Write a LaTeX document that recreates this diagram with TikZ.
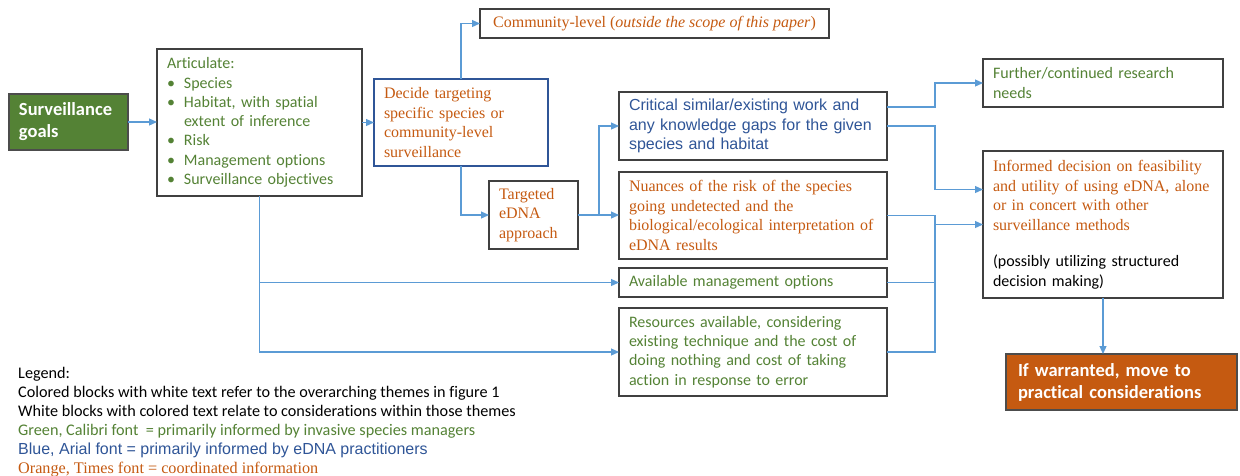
\documentclass[tikz,border=0pt]{standalone}
\usepackage{fontspec}
\setmainfont{Carlito}[Ligatures=NoCommon]
\newfontfamily\calfont{Carlito}[Ligatures=NoCommon]
\newfontfamily\arifont{Liberation Sans}
\newfontfamily\timfont{Liberation Serif}
\usetikzlibrary{arrows.meta}
\definecolor{tgreen}{HTML}{548235}
\definecolor{torange}{HTML}{C55A11}
\definecolor{tblue}{HTML}{2F5597}
\definecolor{cblue}{HTML}{5B9BD5}
\definecolor{bgray}{HTML}{404040}
\newcommand{\artbullet}{\makebox[17pt][l]{\textbullet}}
\newcommand{\artindent}{\hspace*{17pt}}
\begin{document}
\begin{tikzpicture}[x=1pt,y=-1pt,
  box/.style={draw=bgray, line width=1.3pt, anchor=north west, inner xsep=10pt, inner ysep=0pt, align=left, outer sep=0pt},
  fcal/.style={font=\calfont\fontsize{16}{19.3}\selectfont, text=tgreen},
  ftim/.style={font=\timfont\fontsize{16}{19.5}\selectfont, text=torange},
  fari/.style={font=\arifont\fontsize{16}{19.7}\selectfont, text=tblue},
  fbold/.style={font=\calfont\fontsize{18.5}{22}\selectfont\bfseries, text=white},
  conn/.style={draw=cblue, line width=1.2pt},
  arr/.style={conn, -{Triangle[length=8pt,width=7pt]}},
  legend/.style={anchor=base west, inner sep=0pt}]
\useasboundingbox (0,0) rectangle (1240,475);

\node[box, fill=tgreen, draw=black!70, fbold, text width=99pt, minimum height=56pt] (goals) at (9,94) {Surveillance\\goals};
\node[box, fcal, text width=185pt, minimum height=147pt] (art) at (157,49) {Articulate:\\ \artbullet Species\\ \artbullet Habitat, with spatial\\ \artindent extent of inference\\ \artbullet Risk\\ \artbullet Management options\\ \artbullet Surveillance objectives};
\node[box, draw=tblue, ftim, text width=154pt, minimum height=87pt] (dec) at (374,79) {Decide targeting\\specific species or\\community-level\\surveillance};
\node[box, ftim, minimum width=349pt, minimum height=29pt] (com) at (480,9) {Community-level (\textit{outside the scope of this paper})};
\node[box, ftim, text width=69pt, minimum height=68pt] (tar) at (489,181) {Targeted\\eDNA\\approach};
\node[box, fari, text width=248pt, minimum height=68pt] (crit) at (619,92) {Critical similar/existing work and\\any knowledge gaps for the given\\species and habitat};
\node[box, ftim, text width=248pt, minimum height=87pt] (nua) at (619,172) {Nuances of the risk of the species\\going undetected and the\\biological/ecological interpretation of\\eDNA results};
\node[box, fcal, text width=248pt, minimum height=29pt] (avail) at (619,268) {Available management options};
\node[box, fcal, text width=248pt, minimum height=88pt] (res) at (619,308) {Resources available, considering\\existing technique and the cost of\\doing nothing and cost of taking\\action in response to error};
\node[box, fcal, text width=220pt, minimum height=48pt] (fur) at (983,59) {Further/continued research\\needs};
\node[box, ftim, text width=220pt, minimum height=147pt] (inf) at (983,151) {Informed decision on feasibility\\and utility of using eDNA, alone\\or in concert with other\\surveillance methods\\[17pt]{\calfont\color{black}(possibly utilizing structured\\decision making)}};
\node[box, fill=torange, draw=black!70, fbold, inner xsep=12pt, text width=207pt, minimum height=56pt] (war) at (1006,354) {If warranted, move to\\practical considerations};

\node[legend, font=\calfont\fontsize{16.2}{19}\selectfont] (leg0) at (18,378) {Legend:};
\node[legend, font=\calfont\fontsize{16.2}{19}\selectfont] (leg1) at (18,397) {Colored blocks with white text refer to the overarching themes in figure 1};
\node[legend, font=\calfont\fontsize{16.2}{19}\selectfont] (leg2) at (18,416) {White blocks with colored text relate to considerations within those themes};
\node[legend, font=\calfont\fontsize{16.2}{19}\selectfont, text=tgreen] (leg3) at (18,435) {Green, Calibri font\ \ = primarily informed by invasive species managers};
\node[legend, font=\arifont\fontsize{16}{19}\selectfont, text=tblue] (leg4) at (18,454) {Blue, Arial font = primarily informed by eDNA practitioners};
\node[legend, font=\timfont\fontsize{16.2}{19}\selectfont, text=torange] (leg5) at (18,473) {Orange, Times font = coordinated information};

\draw[arr] (goals.east) -- (goals.east -| art.west);
\draw[arr] (art.east) -- (art.east -| dec.west);
\draw[arr] (dec.north) |- (com.west);
\draw[arr] (dec.south) |- (tar.west);
\draw[arr] (tar.east) -- (tar.east -| nua.west);
\path (tar.east) ++(21,0) coordinate (j);
\draw[arr] (j) |- (crit.west);
\draw[arr] (art.south) |- (res.west);
\draw[arr] (art.south |- avail.west) -- (avail.west);
\path (crit.east) ++(48,0) coordinate (vx);
\draw[arr] ([yshift=19pt]crit.east) -- ([yshift=19pt]crit.east -| vx) |- (fur.west);
\draw[arr] (crit.east) -- (vx) |- ([yshift=35pt]inf.west);
\draw[conn] (nua.east) -| (vx |- res.east) -- (res.east);
\draw[conn] (avail.east) -- (avail.east -| vx);
\draw[arr] (vx |- inf.west) -- (inf.west);
\draw[arr] (inf.south) -- (inf.south |- war.north);
\end{tikzpicture}
\end{document}
